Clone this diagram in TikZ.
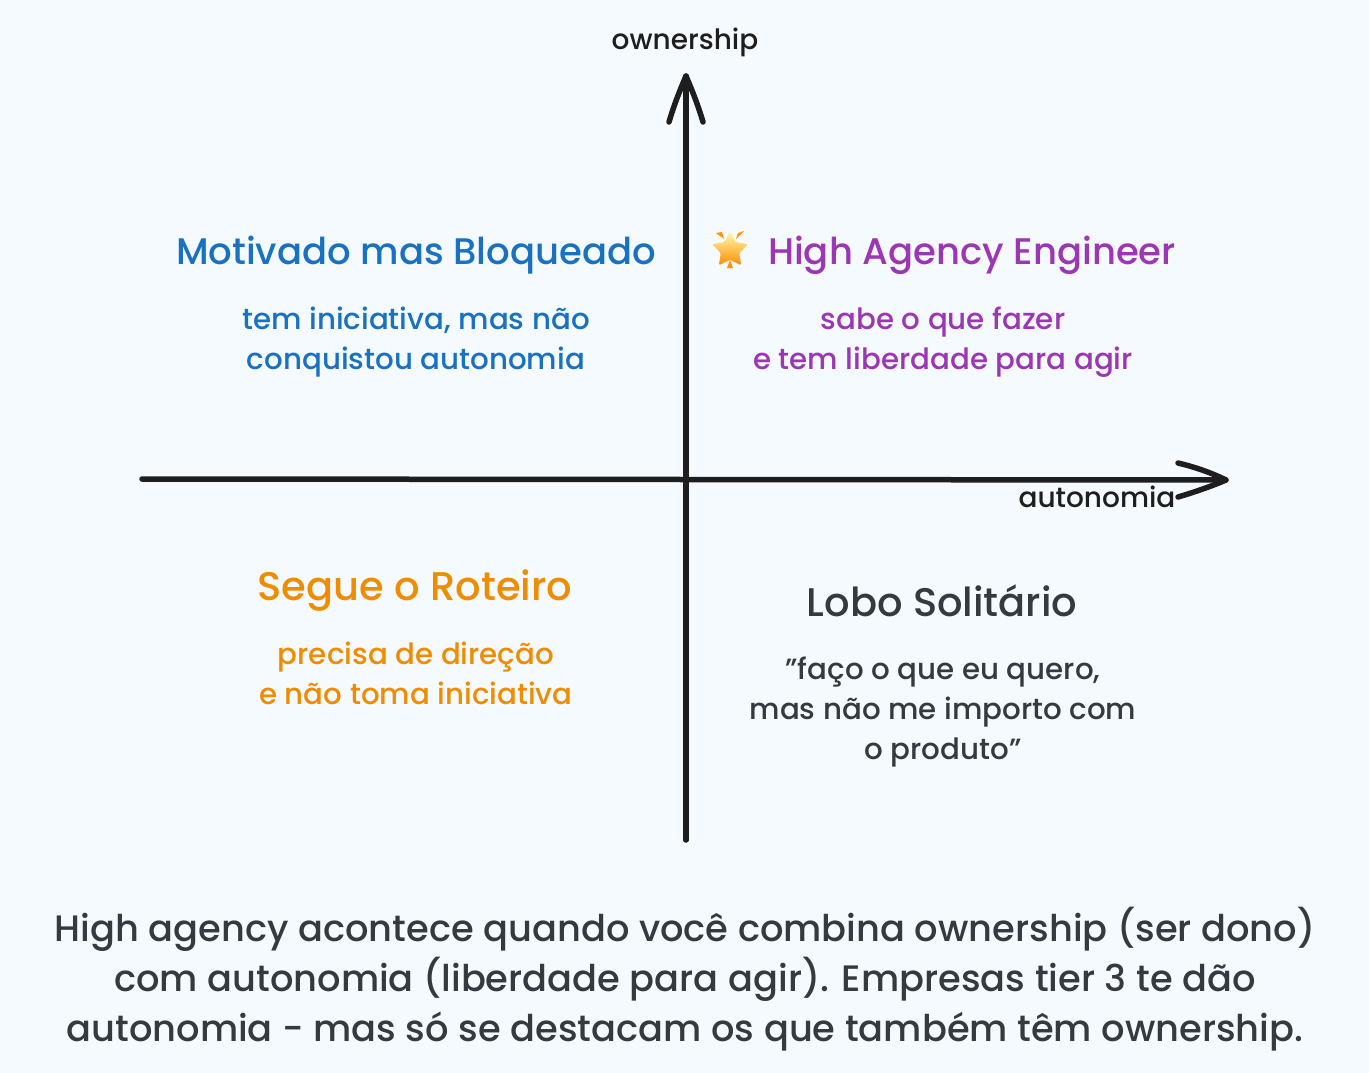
\documentclass[tikz,border=0pt]{standalone}
\usepackage{fontspec}
\setmainfont{Poppins Medium}
\usetikzlibrary{shapes.geometric}
\definecolor{bgc}{HTML}{F5FAFF}
\definecolor{ink}{HTML}{1E1E1E}
\definecolor{bluec}{HTML}{1971C2}
\definecolor{purplec}{HTML}{9C36B5}
\definecolor{orangec}{HTML}{F08C00}
\definecolor{darkc}{HTML}{343A40}
\tikzset{
  axisline/.style={draw=ink,line width=5.5pt,line cap=round,line join=round},
  barb/.style={draw=ink,line width=5.5pt,line cap=round,line join=round},
  title/.style={font=\fontsize{37}{40}\selectfont,inner sep=0pt,align=center},
  bigtitle/.style={font=\fontsize{40}{40}\selectfont,inner sep=0pt,align=center},
  sub/.style={font=\fontsize{29.3}{40}\selectfont,inner sep=0pt,align=center},
  axislabel/.style={font=\fontsize{28}{30}\selectfont,inner sep=0pt,text=ink},
  note/.style={font=\fontsize{36.8}{50}\selectfont,inner sep=0pt,align=center,text=darkc},
  spark/.style={fill=orange!85!yellow,draw=none}
}
\begin{document}
\begin{tikzpicture}[x=1pt,y=-1pt]
\path[use as bounding box,fill=bgc] (0,0) rectangle (1369,1073);
\coordinate (xs) at (142,479);
\coordinate (xe) at (1226,480);
\coordinate (xa) at (1178,463);
\coordinate (xb) at (1178,497);
\coordinate (ys) at (686,840);
\coordinate (ye) at (686,76);
\coordinate (ya) at (669,122);
\coordinate (yb) at (703,122);
\draw[axisline] (xs) -- (xe);
\draw[axisline] (ys) -- (ye);
\draw[barb] (xa) .. controls (1195,467) and (1212,473) .. (xe) .. controls (1212,486) and (1195,492) .. (xb);
\draw[barb] (ya) .. controls (674,105) and (680,90) .. (ye) .. controls (692,90) and (698,105) .. (yb);
\node[axislabel] (ownlabel) at (685,42) {ownership};
\node[axislabel] (autlabel) at (1097,497) {autonomia};

\node[title,text=bluec] (q1t) at (416,255) {Motivado mas Bloqueado};
\node[sub,text=bluec] (q1s) at (416,342) {tem iniciativa, mas não\\conquistou autonomia};

% star emoji
\node[star,star points=5,star point ratio=1.95,minimum size=38pt,inner sep=0pt,rounded corners=1.5pt,
  top color=yellow!30!white,bottom color=orange!90!yellow,draw=none] (starb) at (730,250) {};
\fill[spark] (716,233) -- (722,232) -- (724,239) -- cycle;
\fill[spark] (744,231) -- (738,233) -- (736,239) -- cycle;
\fill[spark] (730,260) -- (727,268) -- (733,268) -- cycle;

\node[title,text=purplec] (q2t) at (972,255) {High Agency Engineer};
\node[sub,text=purplec] (q2s) at (943,342) {sabe o que fazer\\e tem liberdade para agir};

\node[bigtitle,text=orangec] (q3t) at (415,591) {Segue o Roteiro};
\node[sub,text=orangec] (q3s) at (416,673) {precisa de direção\\e não toma iniciativa};

\node[bigtitle,text=darkc] (q4t) at (942,601) {Lobo Solitário};
\node[sub,text=darkc] (q4s) at (943,712) {"faço o que eu quero,\\mas não me importo com\\o produto"};

\node[note] (foot) at (685,979) {High agency acontece quando você combina ownership (ser dono)\\com autonomia (liberdade para agir). Empresas tier 3 te dão\\autonomia - mas só se destacam os que também têm ownership.};
\end{tikzpicture}
\end{document}
